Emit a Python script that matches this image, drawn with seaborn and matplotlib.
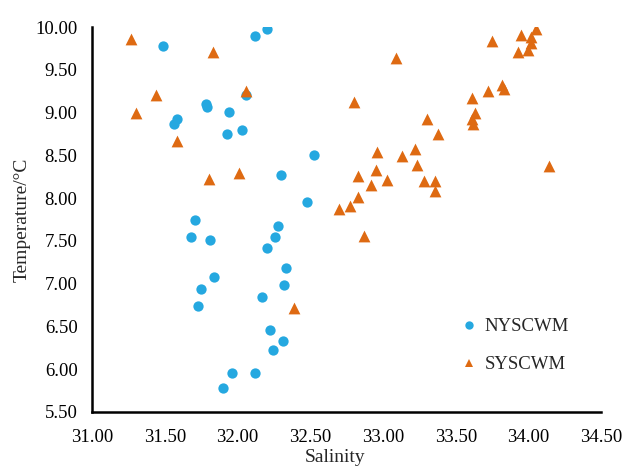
import numpy as np
import pandas as pd
import matplotlib
matplotlib.use("Agg")
import matplotlib.pyplot as plt
import seaborn as sns
from matplotlib.lines import Line2D

ny_salinity = [31.49, 32.12, 32.20, 31.78, 31.79, 31.94, 31.58, 31.56, 31.93, 32.03,
               32.055, 32.525, 32.30, 32.475, 31.71, 31.68, 31.81, 32.28, 32.26, 32.20,
               32.33, 31.84, 31.75, 31.73, 32.32, 32.17, 32.22, 32.31, 32.24, 31.96,
               32.12, 31.90]
ny_temp = [9.78, 9.90, 9.98, 9.10, 9.07, 9.01, 8.92, 8.87, 8.75, 8.80,
           9.21, 8.50, 8.27, 7.95, 7.74, 7.54, 7.51, 7.67, 7.54, 7.42,
           7.18, 7.08, 6.94, 6.74, 6.98, 6.84, 6.46, 6.33, 6.22, 5.96,
           5.96, 5.78]

sy_salinity = [31.27, 31.83, 31.44, 31.30, 32.06, 31.58, 31.80, 32.01, 32.70, 32.77,
               32.83, 32.87, 32.385, 33.09, 32.80, 33.75, 33.95, 34.05, 34.02, 34.015,
               34.00, 33.93, 33.61, 33.72, 33.82, 33.83, 33.63, 33.61, 33.62, 33.30,
               33.375, 33.22, 32.96, 33.13, 33.23, 32.95, 32.83, 33.03, 32.92, 33.28,
               33.36, 33.36, 34.14]
sy_temp = [9.86, 9.71, 9.21, 9.00, 9.25, 8.67, 8.22, 8.29, 7.87, 7.91,
           8.01, 7.56, 6.72, 9.64, 9.12, 9.84, 9.91, 9.98, 9.89, 9.81,
           9.73, 9.71, 9.17, 9.25, 9.32, 9.28, 9.00, 8.93, 8.87, 8.92,
           8.75, 8.58, 8.54, 8.49, 8.39, 8.33, 8.26, 8.21, 8.15, 8.20,
           8.20, 8.08, 8.37]

groups = ["NYSCWM", "SYSCWM"]
x_ticks = [31.0, 31.5, 32.0, 32.5, 33.0, 33.5, 34.0, 34.5]
y_ticks = [5.5, 6.0, 6.5, 7.0, 7.5, 8.0, 8.5, 9.0, 9.5, 10.0]

ny_df = pd.DataFrame({"Salinity": ny_salinity, "Temperature": ny_temp})
sy_df = pd.DataFrame({"Salinity": sy_salinity, "Temperature": sy_temp})

sns.set_style("white")
plt.rcParams["font.family"] = ["Liberation Serif", "DejaVu Serif"]

fig = plt.figure(figsize=(6.23, 4.68), dpi=100)
ax = fig.add_axes([0.148, 0.120, 0.817, 0.822])

blue = "#25A8E0"
orange = "#DE6A12"
sns.scatterplot(data=ny_df, x="Salinity", y="Temperature", color=blue, marker="o",
                s=55, linewidth=0, ax=ax, legend=False)
sns.scatterplot(data=sy_df, x="Salinity", y="Temperature", color=orange, marker="^",
                s=72, linewidth=0, ax=ax, legend=False)

ax.set_xlim(31.0, 34.5)
ax.set_ylim(5.5, 10.0)
ax.set_xticks(x_ticks)
ax.set_yticks(y_ticks)
ax.set_xticklabels([f"{v:.2f}" for v in x_ticks])
ax.set_yticklabels([f"{v:.2f}" for v in y_ticks])
ax.tick_params(axis="both", direction="in", length=5, width=1.5, labelsize=13.5,
               colors="black")
ax.tick_params(axis="x", pad=12)
ax.tick_params(axis="y", pad=10.5)
for side in ["top", "right"]:
    ax.spines[side].set_visible(False)
for side in ["left", "bottom"]:
    ax.spines[side].set_linewidth(1.8)
    ax.spines[side].set_color("black")

ax.set_xlabel("Salinity", fontsize=14)
ax.xaxis.set_label_coords(0.477, -0.097)
ax.set_ylabel("Temperature/°C", fontsize=14)
ax.yaxis.set_label_coords(-0.121, 0.5)

handles = [Line2D([0], [0], marker="o", color="none", markerfacecolor=blue,
                  markeredgewidth=0, markersize=6),
           Line2D([0], [0], marker="^", color="none", markerfacecolor=orange,
                  markeredgewidth=0, markersize=6)]
ax.legend(handles, groups, loc="center left", bbox_to_anchor=(0.685, 0.172),
          frameon=False, fontsize=13.5, handletextpad=0.25, labelspacing=1.1,
          handlelength=1.2)

fig.savefig("out.png", dpi=100)
